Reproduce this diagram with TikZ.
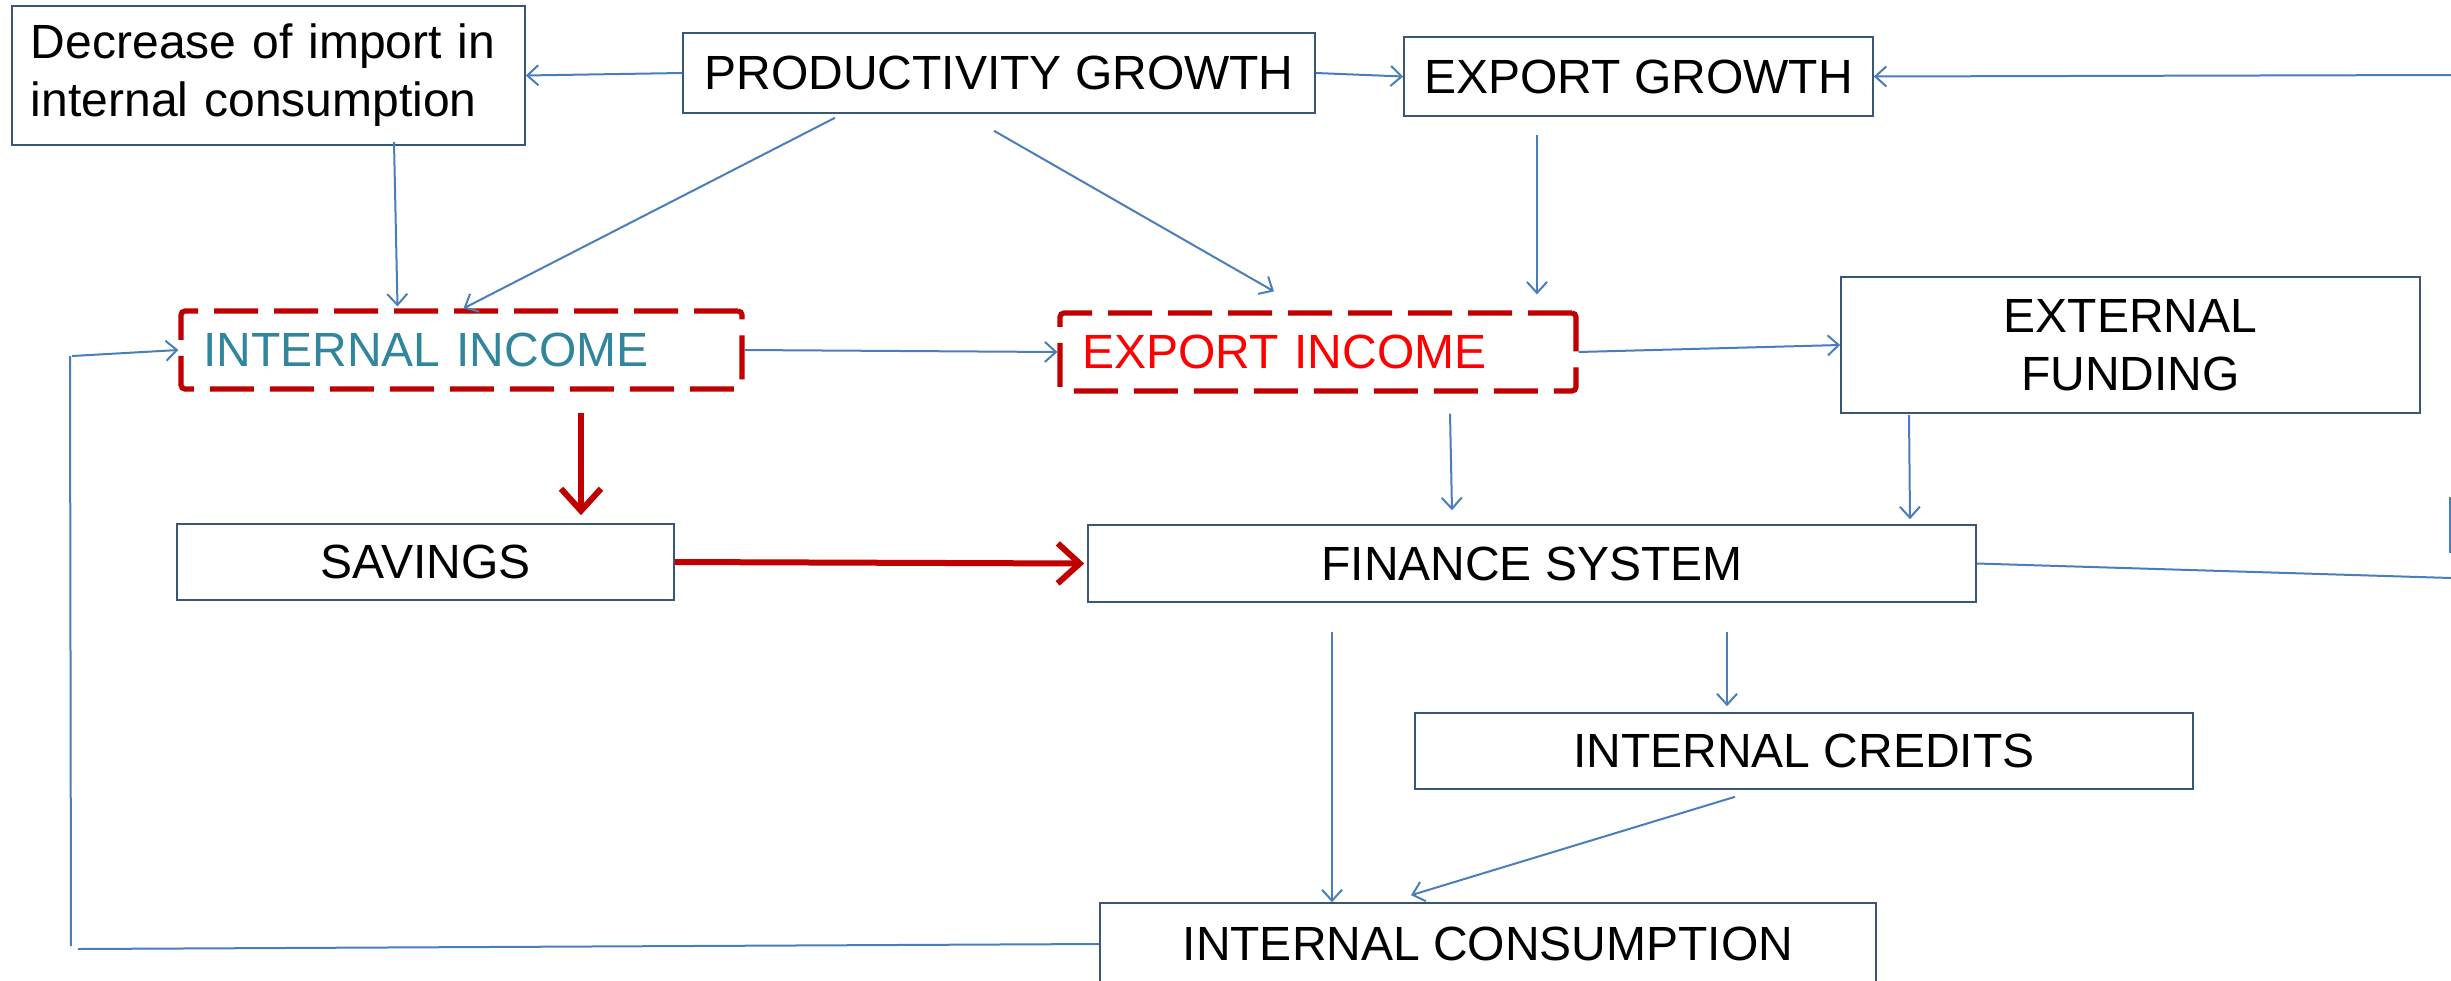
\documentclass[tikz,border=0pt]{standalone}
\usepackage{fontspec}
\setmainfont{Liberation Sans}
\usetikzlibrary{arrows.meta}
\definecolor{lnblue}{HTML}{4A7EBB}
\definecolor{bxborder}{HTML}{3A5676}
\definecolor{dred}{HTML}{C00000}
\definecolor{tealtxt}{HTML}{31859C}
\definecolor{brred}{HTML}{FF0000}
\tikzset{
  box/.style={draw=bxborder, line width=0.8pt, inner sep=0pt, font=\fontsize{24pt}{29pt}\selectfont},
  dbox/.style={draw=dred, line width=2.6pt, dash pattern=on 22pt off 8pt, rounded corners=2pt, inner ysep=0pt, inner xsep=11pt, align=left, font=\fontsize{24pt}{29pt}\selectfont},
  conn/.style={draw=lnblue, line width=1pt, -{Straight Barb[length=5.5pt,width=10pt]}},
  plain/.style={draw=lnblue, line width=1pt},
  bigarrow/.style={draw=dred, line width=3pt, -{Straight Barb[length=11pt,width=20pt,line width=3pt]}}
}
\begin{document}
\begin{tikzpicture}[x=0.5pt,y=-0.5pt]
\useasboundingbox (0,0) rectangle (2451,980);
\clip (0,0) rectangle (2451,980);
% nodes
\node[box, text width=237.5pt, inner xsep=9.5pt, minimum height=69.5pt, align=left] (dec) at (268.5,75.5) {Decrease of import in\\internal consumption};
\node[box, minimum width=316pt, minimum height=40pt] (pg) at (999,73) {PRODUCTIVITY GROWTH};
\node[box, minimum width=234.5pt, minimum height=39.5pt] (eg) at (1638.5,76.5) {EXPORT GROWTH};
\node[dbox, text width=258.5pt, minimum height=39pt, text=tealtxt] (ii) at (461.5,350) {INTERNAL INCOME};
\node[dbox, text width=236pt, minimum height=39pt, text=brred] (ei) at (1318,352) {EXPORT INCOME};
\node[box, minimum width=289.5pt, minimum height=68pt, align=center] (ef) at (2130.5,345) {EXTERNAL\\FUNDING};
\node[box, minimum width=248.5pt, minimum height=38pt] (sav) at (425.5,562) {SAVINGS};
\node[box, minimum width=444pt, minimum height=38.5pt] (fin) at (1532,563.5) {FINANCE SYSTEM};
\node[box, minimum width=389pt, minimum height=38pt] (ic) at (1804,751) {INTERNAL CREDITS};
\node[box, minimum width=388pt, minimum height=41pt] (icons) at (1488,944) {INTERNAL CONSUMPTION};
% free ends
\coordinate (rin) at (2451,75);
\coordinate (rout) at (2451,578);
\coordinate (rv1) at (2450,497);
\coordinate (rv2) at (2450,553);
\coordinate (lb) at (78,949);
\coordinate (lbv) at (71,946);
\coordinate (ltv) at (70,356);
% connectors
\draw[conn] (pg.west) -- (dec.east);
\draw[conn] (pg.east) -- (eg.west);
\draw[conn] (rin) -- (eg.east);
\draw[conn] ([xshift=62.75pt,yshift=2pt]dec.south) -- ([xshift=-32pt,yshift=1pt]ii.north);
\draw[conn] ([xshift=-82pt,yshift=-2pt]pg.south) -- ([xshift=1pt,yshift=0pt]ii.north);
\draw[conn] ([xshift=-2.5pt,yshift=-8.5pt]pg.south) -- ([xshift=-22pt,yshift=9.5pt]ei.north);
\draw[conn] ([xshift=-50.75pt,yshift=-9pt]eg.south) -- ([xshift=109.5pt,yshift=8pt]ei.north);
\draw[conn] (ii.east) -- (ei.west);
\draw[conn] (ei.east) -- (ef.west);
\draw[bigarrow] ([xshift=59.75pt,yshift=-10.5pt]ii.south) -- ([xshift=77.75pt,yshift=4pt]sav.north);
\draw[bigarrow] (sav.east) -- ([xshift=-1.5pt]fin.west);
\draw[conn] ([xshift=66pt,yshift=-10pt]ei.south) -- ([xshift=-40pt,yshift=7pt]fin.north);
\draw[conn] ([xshift=-110.75pt,yshift=-0.5pt]ef.south) -- ([xshift=189pt,yshift=2.5pt]fin.north);
\draw[plain] (fin.east) -- (rout);
\draw[plain] (rv1) -- (rv2);
\draw[conn] ([xshift=-100pt,yshift=-14.5pt]fin.south) -- ([xshift=-78pt]icons.north);
\draw[conn] ([xshift=97.5pt,yshift=-14.5pt]fin.south) -- ([xshift=-38.5pt,yshift=3pt]ic.north);
\draw[conn] ([xshift=-34.5pt,yshift=-3.5pt]ic.south) -- ([xshift=-38.5pt,yshift=3.5pt]icons.north);
\draw[plain] (icons.west) -- (lb);
\draw[plain] (lbv) -- (ltv);
\draw[conn] ([xshift=1pt]ltv) -- (ii.west);
\end{tikzpicture}
\end{document}
